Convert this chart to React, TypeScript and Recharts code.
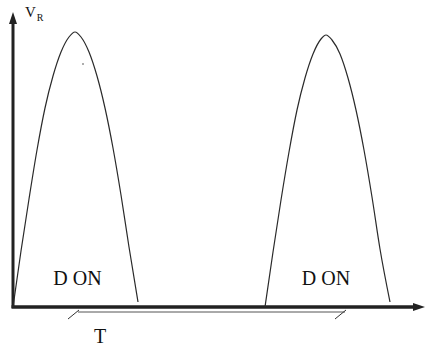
import type { FC } from 'react';
import { LineChart, Line, XAxis, YAxis, ReferenceLine, ReferenceDot } from 'recharts';

// Rectified voltage: two conduction pulses (t in time units, v in volts units)
const humpOne = [
    { t: 0, v: 0 }, { t: 8, v: 56 }, { t: 16, v: 108 }, { t: 24, v: 157 },
    { t: 32, v: 199 }, { t: 40, v: 231 }, { t: 48, v: 255 }, { t: 56, v: 270 },
    { t: 62, v: 275 }, { t: 68, v: 270 }, { t: 76, v: 255 }, { t: 84, v: 231 },
    { t: 92, v: 199 }, { t: 100, v: 159 }, { t: 108, v: 112 }, { t: 116, v: 60 },
    { t: 125, v: 5 },
];

const humpTwo = [
    { t: 252, v: 0 }, { t: 260, v: 55 }, { t: 268, v: 107 }, { t: 276, v: 155 },
    { t: 284, v: 197 }, { t: 292, v: 229 }, { t: 300, v: 253 }, { t: 308, v: 268 },
    { t: 313, v: 272 }, { t: 319, v: 267 }, { t: 327, v: 253 }, { t: 335, v: 229 },
    { t: 343, v: 197 }, { t: 351, v: 157 }, { t: 359, v: 110 }, { t: 367, v: 58 },
    { t: 377, v: 5 },
];

const pulseLabels = [
    { t: 64.5, v: 22, text: 'D ON' },
    { t: 313, v: 22, text: 'D ON' },
];

// period bracket under the time axis
const periodStart = 65;
const periodEnd = 332;
const periodLevel = -5;

const AXIS = '#222';
const TRACE = '#2a2a2a';
const FONT = 'Liberation Serif, Times New Roman, serif';

const UpArrow = ({ cx, cy }: any) => (
    <polygon points={`${cx},${cy} ${cx - 4},${cy + 12} ${cx + 4},${cy + 12}`} fill={AXIS} />
);

const RightArrow = ({ cx, cy }: any) => (
    <polygon points={`${cx},${cy} ${cx - 12},${cy - 4} ${cx - 12},${cy + 4}`} fill={AXIS} />
);

const textShape = (text: string, size: number) =>
    ({ cx, cy }: any) => (
        <text x={cx} y={cy} textAnchor="middle" style={{ fontFamily: FONT, fontSize: size }} fill="#111">
            {text}
        </text>
    );

const AxisName = ({ cx, cy }: any) => (
    <text x={cx} y={cy} style={{ fontFamily: FONT, fontSize: 15 }} fill="#111">
        <tspan>V</tspan>
        <tspan style={{ fontSize: 10 }} dx={1} dy={4}>R</tspan>
    </text>
);

const App: FC = () => (
    <div style={{ position: 'absolute', left: 0, top: 0, width: 440, height: 347, background: '#fff' }}>
        <LineChart width={440} height={347} margin={{ top: 0, right: 0, bottom: 0, left: 0 }} accessibilityLayer={false}>
            <XAxis type="number" dataKey="t" domain={[-13, 427]} allowDataOverflow hide />
            <YAxis type="number" dataKey="v" domain={[-40, 307]} allowDataOverflow hide />

            <ReferenceLine segment={[{ x: 0, y: -1 }, { x: 0, y: 286 }]} stroke={AXIS} strokeWidth={3} />
            <ReferenceLine segment={[{ x: -1.5, y: 0 }, { x: 402, y: 0 }]} stroke={AXIS} strokeWidth={3.5} />
            <ReferenceDot x={0} y={295} shape={UpArrow} />
            <ReferenceDot x={412} y={0} shape={RightArrow} />

            <ReferenceLine
                segment={[{ x: periodStart, y: periodLevel }, { x: periodEnd, y: periodLevel }]}
                stroke="#555"
                strokeWidth={1}
            />
            <ReferenceLine segment={[{ x: periodStart - 10, y: -12 }, { x: periodStart + 1, y: -3 }]} stroke="#333" strokeWidth={1} />
            <ReferenceLine segment={[{ x: periodEnd - 10, y: -12 }, { x: periodEnd + 1, y: -3 }]} stroke="#333" strokeWidth={1} />

            <Line data={humpOne} dataKey="v" type="monotone" stroke={TRACE} strokeWidth={1.2} dot={false} activeDot={false} isAnimationActive={false} />
            <Line data={humpTwo} dataKey="v" type="monotone" stroke={TRACE} strokeWidth={1.2} dot={false} activeDot={false} isAnimationActive={false} />

            {pulseLabels.map((l, i) => (
                <ReferenceDot key={i} x={l.t} y={l.v} shape={textShape(l.text, 20)} />
            ))}
            <ReferenceDot x={87} y={-36} shape={textShape('T', 20)} />
            <ReferenceDot x={12} y={290} shape={AxisName} />
            <ReferenceDot x={70} y={243} r={0.8} fill="#444" stroke="none" />
        </LineChart>
    </div>
);

export default App;
